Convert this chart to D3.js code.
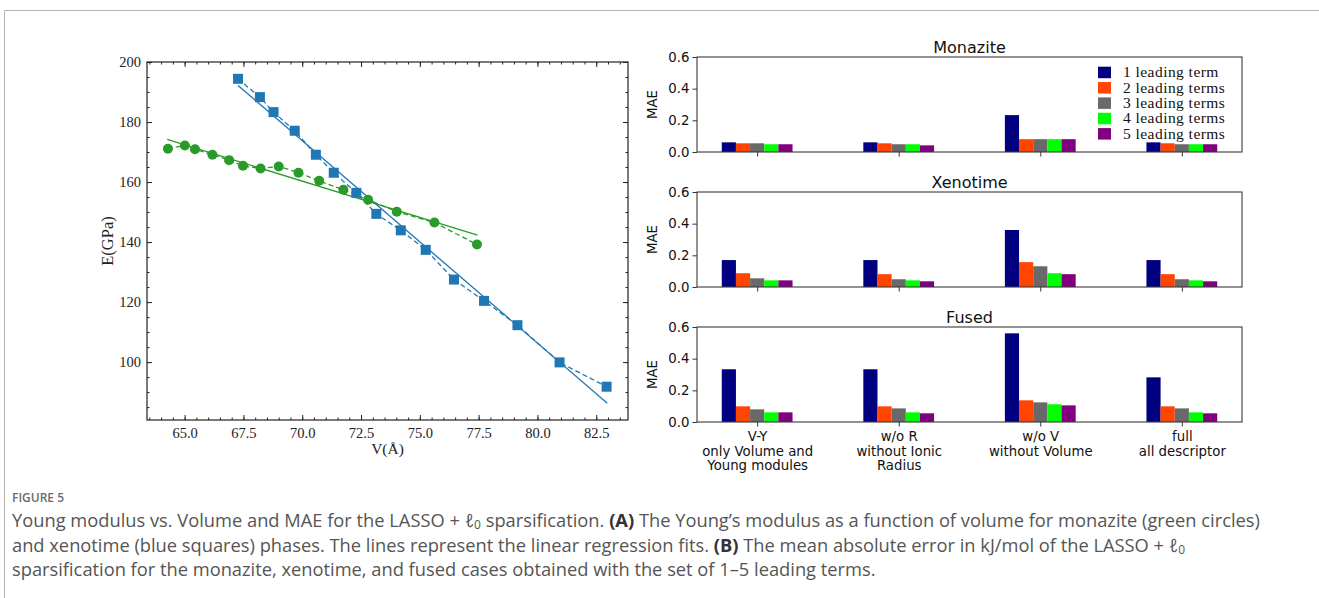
<!DOCTYPE html>
<html>
<head>
<meta charset="utf-8">
<script src="https://cdn.jsdelivr.net/npm/d3@7"></script>
<style>
  body { margin: 0; background: #fff; }
  svg { display: block; }
</style>
</head>
<body>
<div id="chart"></div>
<script>
// (A) Young modulus vs volume
const monaziteV = [64.29, 65.01, 65.44, 66.18, 66.89, 67.48, 68.23, 69.0, 69.84, 70.72, 71.75, 72.8, 74.02, 75.62, 77.43];
const monaziteE = [171.1, 172.2, 170.9, 169.1, 167.3, 165.4, 164.5, 165.2, 163.1, 160.4, 157.4, 154.1, 150.1, 146.5, 139.2];
const xenotimeV = [67.27, 68.2, 68.78, 69.68, 70.58, 71.34, 72.3, 73.15, 74.19, 75.25, 76.45, 77.73, 79.15, 80.94, 82.94];
const xenotimeE = [194.4, 188.3, 183.3, 177.1, 169.1, 163.1, 156.4, 149.4, 143.9, 137.4, 127.5, 120.4, 112.3, 99.9, 91.8];
// end points of the regression lines
const monaziteFitV = [64.26, 77.45];
const monaziteFitE = [174.2, 142.3];
const xenotimeFitV = [67.27, 82.97];
const xenotimeFitE = [192.2, 86.3];
const vTicks = [65, 67.5, 70, 72.5, 75, 77.5, 80, 82.5];
const eTicks = [100, 120, 140, 160, 180, 200];

// (B) MAE bars
const panelNames = ["Monazite", "Xenotime", "Fused"];
const categories = [
  ["V-Y", "only Volume and", "Young modules"],
  ["w/o R", "without Ionic", "Radius"],
  ["w/o V", "without Volume"],
  ["full", "all descriptor"]
];
const terms = ["1 leading term", "2 leading terms", "3 leading terms", "4 leading terms", "5 leading terms"];
const maeMonazite = [
  [0.061, 0.055, 0.055, 0.049, 0.049],
  [0.061, 0.055, 0.049, 0.049, 0.042],
  [0.233, 0.081, 0.081, 0.081, 0.081],
  [0.061, 0.055, 0.049, 0.049, 0.049]
];
const maeXenotime = [
  [0.170, 0.087, 0.055, 0.042, 0.042],
  [0.170, 0.081, 0.049, 0.042, 0.036],
  [0.360, 0.157, 0.131, 0.087, 0.081],
  [0.170, 0.081, 0.049, 0.042, 0.036]
];
const maeFused = [
  [0.333, 0.099, 0.080, 0.061, 0.061],
  [0.333, 0.099, 0.086, 0.061, 0.055],
  [0.560, 0.137, 0.124, 0.112, 0.105],
  [0.282, 0.099, 0.086, 0.061, 0.055]
];
const maeTicks = [0, 0.2, 0.4, 0.6];

const termColors = ["#000080", "#ff4500", "#696969", "#00ff00", "#800080"];
const blue = "#1f77b4";
const green = "#2a9a2a";
const serif = "'Liberation Serif', serif";
const sans = "'DejaVu Sans', sans-serif";

const svg = d3.select("#chart").append("svg")
  .attr("width", 1319)
  .attr("height", 598);

// page frame
svg.append("path")
  .attr("d", "M4.5,598V10.5H1319")
  .attr("fill", "none")
  .attr("stroke", "#b5b5b5");

// ---------- left panel ----------
const L = { left: 147, right: 628, top: 62, bottom: 420 };
const x = d3.scaleLinear().domain([63.4, 83.85]).range([L.left, L.right]);
const y = d3.scaleLinear().domain([80.7, 200]).range([L.bottom, L.top]);

const left = svg.append("g");

// major and minor ticks pointing inward on all four sides
const xMinor = d3.range(63.5, 84, 0.5);
const yMinor = d3.range(85, 201, 5);

left.append("g")
  .attr("transform", `translate(0,${L.bottom})`)
  .call(d3.axisBottom(x).tickValues(xMinor).tickSize(-2.5).tickFormat(""));
left.append("g")
  .attr("transform", `translate(0,${L.bottom})`)
  .call(d3.axisBottom(x).tickValues(vTicks).tickSize(-5).tickPadding(8).tickFormat(d3.format(".1f")));
left.append("g")
  .attr("transform", `translate(0,${L.top})`)
  .call(d3.axisTop(x).tickValues(xMinor).tickSize(-2.5).tickFormat(""));
left.append("g")
  .attr("transform", `translate(0,${L.top})`)
  .call(d3.axisTop(x).tickValues(vTicks).tickSize(-5).tickFormat(""));
left.append("g")
  .attr("transform", `translate(${L.left},0)`)
  .call(d3.axisLeft(y).tickValues(yMinor).tickSize(-2.5).tickFormat(""));
left.append("g")
  .attr("transform", `translate(${L.left},0)`)
  .call(d3.axisLeft(y).tickValues(eTicks).tickSize(-5).tickPadding(6).tickFormat(d3.format("d")));
left.append("g")
  .attr("transform", `translate(${L.right},0)`)
  .call(d3.axisRight(y).tickValues(yMinor).tickSize(-2.5).tickFormat(""));
left.append("g")
  .attr("transform", `translate(${L.right},0)`)
  .call(d3.axisRight(y).tickValues(eTicks).tickSize(-5).tickFormat(""));

left.selectAll(".domain").remove();
left.selectAll(".tick line").attr("stroke", "#222");
left.selectAll(".tick text")
  .attr("font-family", serif)
  .attr("font-size", 14.5)
  .attr("fill", "#222");

left.append("rect")
  .attr("x", L.left).attr("y", L.top)
  .attr("width", L.right - L.left).attr("height", L.bottom - L.top)
  .attr("fill", "none").attr("stroke", "#222").attr("stroke-width", 1.2);

left.append("text")
  .attr("x", (L.left + L.right) / 2).attr("y", 454)
  .attr("text-anchor", "middle")
  .attr("font-family", serif).attr("font-size", 15.5).attr("fill", "#222")
  .text("V(Å)");
left.append("text")
  .attr("transform", `translate(113,${(L.top + L.bottom) / 2}) rotate(-90)`)
  .attr("text-anchor", "middle")
  .attr("font-family", serif).attr("font-size", 16.5).attr("fill", "#222")
  .text("E(GPa)");

const line = d3.line().x(d => x(d[0])).y(d => y(d[1]));

const plot = left.append("g");
// regression fits
plot.append("path").datum(d3.zip(monaziteFitV, monaziteFitE))
  .attr("d", line).attr("fill", "none").attr("stroke", green).attr("stroke-width", 1.3);
plot.append("path").datum(d3.zip(xenotimeFitV, xenotimeFitE))
  .attr("d", line).attr("fill", "none").attr("stroke", blue).attr("stroke-width", 1.3);
// dashed connections
plot.append("path").datum(d3.zip(monaziteV, monaziteE))
  .attr("d", line).attr("fill", "none").attr("stroke", green)
  .attr("stroke-width", 1.3).attr("stroke-dasharray", "5,3");
plot.append("path").datum(d3.zip(xenotimeV, xenotimeE))
  .attr("d", line).attr("fill", "none").attr("stroke", blue)
  .attr("stroke-width", 1.3).attr("stroke-dasharray", "5,3");
// markers
plot.selectAll(".sq").data(d3.zip(xenotimeV, xenotimeE)).join("rect")
  .attr("class", "sq")
  .attr("x", d => x(d[0]) - 5).attr("y", d => y(d[1]) - 5)
  .attr("width", 10).attr("height", 10)
  .attr("fill", blue);
plot.selectAll(".ci").data(d3.zip(monaziteV, monaziteE)).join("circle")
  .attr("class", "ci")
  .attr("cx", d => x(d[0])).attr("cy", d => y(d[1])).attr("r", 5)
  .attr("fill", green);

// ---------- right panels ----------
const R = { left: 697, right: 1242, height: 95, tops: [57, 192, 327] };
const xb = d3.scaleLinear().domain([-0.425, 3.425]).range([R.left, R.right]);
const barW = 0.1;
const panelData = [maeMonazite, maeXenotime, maeFused];

panelData.forEach((vals, p) => {
  const top = R.tops[p];
  const yb = d3.scaleLinear().domain([0, 0.6]).range([top + R.height, top]);
  const g = svg.append("g");

  vals.forEach((grp, i) => {
    g.selectAll(null).data(grp).join("rect")
      .attr("x", (d, j) => xb(i + (j - 2) * barW - barW / 2))
      .attr("y", d => yb(d))
      .attr("width", xb(barW) - xb(0))
      .attr("height", d => yb(0) - yb(d))
      .attr("fill", (d, j) => termColors[j]);
  });

  g.append("g")
    .attr("transform", `translate(${R.left},0)`)
    .call(d3.axisLeft(yb).tickValues(maeTicks).tickSize(4.5).tickPadding(3).tickFormat(d3.format(".1f")));
  const xa = g.append("g")
    .attr("transform", `translate(0,${top + R.height})`)
    .call(d3.axisBottom(xb).tickValues([0, 1, 2, 3]).tickSize(4.5).tickPadding(5)
      .tickFormat(d => p === 2 ? categories[d][0] : ""));
  g.selectAll(".domain").remove();
  g.selectAll(".tick line").attr("stroke", "#333");
  g.selectAll(".tick text").attr("font-family", sans).attr("font-size", 13.3).attr("fill", "#111");

  if (p === 2) {
    xa.selectAll(".tick text").each(function (d) {
      const t = d3.select(this).text(null);
      categories[d].forEach((ln, k) => {
        t.append("tspan").attr("x", 0).attr("dy", k ? "1.1em" : "0.71em").text(ln);
      });
    });
  }

  g.append("rect")
    .attr("x", R.left).attr("y", top)
    .attr("width", R.right - R.left).attr("height", R.height)
    .attr("fill", "none").attr("stroke", "#3a3a3a").attr("stroke-width", 1.1);

  g.append("text")
    .attr("x", (R.left + R.right) / 2).attr("y", top - 4)
    .attr("text-anchor", "middle")
    .attr("font-family", sans).attr("font-size", 16).attr("fill", "#111")
    .text(panelNames[p]);

  g.append("text")
    .attr("transform", `translate(657,${top + R.height / 2}) rotate(-90)`)
    .attr("text-anchor", "middle")
    .attr("font-family", sans).attr("font-size", 13.3).attr("fill", "#111")
    .text("MAE");

  if (p === 0) {
    const lg = g.append("g");
    terms.forEach((t, j) => {
      const cy = 72.7 + j * 15.35;
      lg.append("rect")
        .attr("x", 1098).attr("y", cy - 6)
        .attr("width", 13).attr("height", 11.5)
        .attr("fill", termColors[j]);
      lg.append("text")
        .attr("x", 1123).attr("y", cy + 4.5)
        .attr("font-family", serif).attr("font-size", 15.5)
        .attr("letter-spacing", 0.45).attr("fill", "#111")
        .text(t);
    });
  }
});

// ---------- caption ----------
const cap = svg.append("g").attr("font-family", "'Open Sans', sans-serif");
cap.append("text")
  .attr("x", 12).attr("y", 502)
  .attr("font-size", 12).attr("font-weight", 600).attr("fill", "#6a6a6a")
  .text("FIGURE 5");

const capLines = [
  [["Young modulus vs. Volume and MAE for the LASSO + ", 0], ["ℓ", 2], ["0", 3],
   [" sparsification. ", 0], ["(A)", 1],
   [" The Young’s modulus as a function of volume for monazite (green circles)", 0]],
  [["and xenotime (blue squares) phases. The lines represent the linear regression fits. ", 0],
   ["(B)", 1], [" The mean absolute error in kJ/mol of the LASSO + ", 0], ["ℓ", 2], ["0", 3]],
  [["sparsification for the monazite, xenotime, and fused cases obtained with the set of 1–5 leading terms.", 0]]
];
capLines.forEach((parts, i) => {
  const t = cap.append("text")
    .attr("x", 12).attr("y", 527 + i * 24.5)
    .attr("font-size", 18.3).attr("fill", "#555");
  parts.forEach(([s, kind]) => {
    const sp = t.append("tspan").text(s);
    if (kind === 1) sp.attr("font-weight", 700).attr("fill", "#333");
    if (kind === 2) sp.attr("font-style", "italic");
    if (kind === 3) sp.attr("font-size", 12).attr("baseline-shift", "-2px");
  });
});
</script>
</body>
</html>
